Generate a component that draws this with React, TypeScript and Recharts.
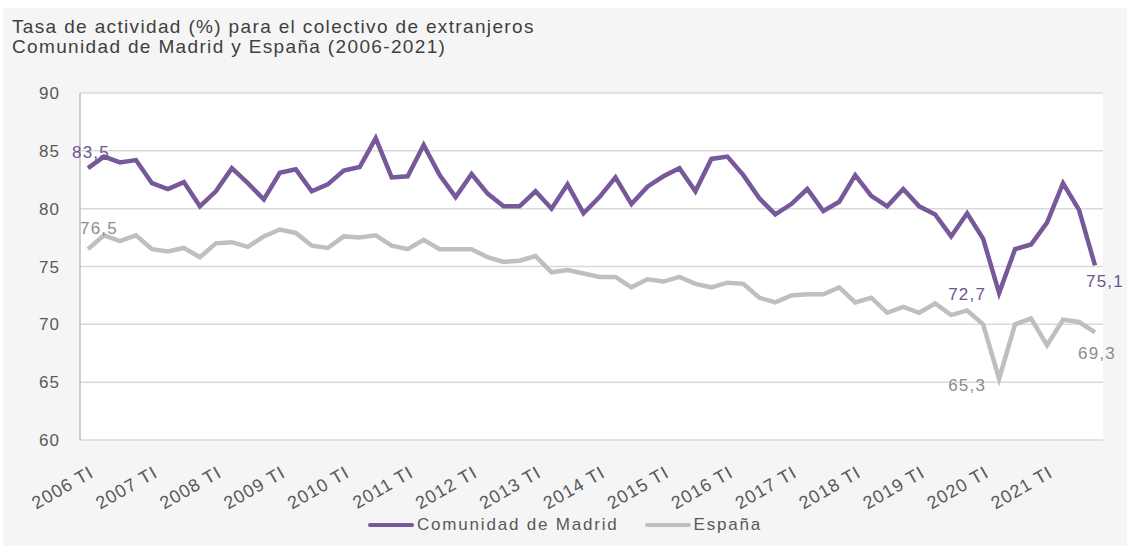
import { CartesianGrid, Legend, Line, LineChart, XAxis, YAxis } from "recharts";

// quarters 2006 TI .. 2021 TIV
const years = [2006, 2007, 2008, 2009, 2010, 2011, 2012, 2013, 2014, 2015, 2016, 2017, 2018, 2019, 2020, 2021];
const quarters = ["TI", "TII", "TIII", "TIV"];
const periods = years.flatMap((y) => quarters.map((q) => `${y} ${q}`));

const madrid = [
  83.5, 84.5, 84.0, 84.2, 82.2, 81.7, 82.3, 80.2,
  81.5, 83.5, 82.2, 80.8, 83.1, 83.4, 81.5, 82.1,
  83.3, 83.6, 86.1, 82.7, 82.8, 85.5, 82.9, 81.0,
  83.0, 81.3, 80.2, 80.2, 81.5, 80.0, 82.1, 79.6,
  81.0, 82.7, 80.4, 81.9, 82.8, 83.5, 81.5, 84.3,
  84.5, 82.9, 80.9, 79.5, 80.4, 81.7, 79.8, 80.6,
  82.9, 81.1, 80.2, 81.7, 80.2, 79.5, 77.6, 79.6,
  77.4, 72.7, 76.5, 76.9, 78.8, 82.2, 79.9, 75.1,
];

const espana = [
  76.5, 77.7, 77.2, 77.7, 76.5, 76.3, 76.6, 75.8,
  77.0, 77.1, 76.7, 77.6, 78.2, 77.9, 76.8, 76.6,
  77.6, 77.5, 77.7, 76.8, 76.5, 77.3, 76.5, 76.5,
  76.5, 75.8, 75.4, 75.5, 75.9, 74.5, 74.7, 74.4,
  74.1, 74.1, 73.2, 73.9, 73.7, 74.1, 73.5, 73.2,
  73.6, 73.5, 72.3, 71.9, 72.5, 72.6, 72.6, 73.2,
  71.9, 72.3, 71.0, 71.5, 71.0, 71.8, 70.8, 71.2,
  70.0, 65.3, 70.0, 70.5, 68.2, 70.4, 70.2, 69.3,
];

const yTicks = [60, 65, 70, 75, 80, 85, 90];

const data = periods.map((p, i) => ({ periodo: p, madrid: madrid[i], espana: espana[i] }));

const PURPLE = "#76589b";
const GREY = "#bfbfbf";
const TEXT = "#595959";
const FONT = "Liberation Sans, Arial, sans-serif";

const fmt = (v: number) => v.toFixed(1).replace(".", ",");

// which points get a value label, and where it sits relative to the point
const madridLabels: Record<number, { dx: number; dy: number; anchor: string }> = {
  0: { dx: 3, dy: -10, anchor: "middle" },
  57: { dx: -13, dy: 7, anchor: "end" },
  63: { dx: 10, dy: 22, anchor: "middle" },
};
const espanaLabels: Record<number, { dx: number; dy: number; anchor: string }> = {
  0: { dx: 11, dy: -15, anchor: "middle" },
  57: { dx: -13, dy: 12, anchor: "end" },
  63: { dx: 2, dy: 27, anchor: "middle" },
};

const makeLabel = (spots: Record<number, { dx: number; dy: number; anchor: string }>, color: string) =>
  (props: any) => {
    const { x, y, index, value } = props;
    const s = spots[index];
    if (!s) return null;
    return (
      <text
        key={`l-${index}`}
        x={x + s.dx}
        y={y + s.dy}
        textAnchor={s.anchor}
        fill={color}
        fontSize={17}
        letterSpacing={1.2}
        fontFamily={FONT}
      >
        {fmt(value)}
      </text>
    );
  };

const XTick = ({ x, y, payload }: any) => {
  const tx = x + 7;
  const ty = y + 28;
  return (
    <text
      x={tx}
      y={ty}
      transform={`rotate(-30, ${tx}, ${ty})`}
      textAnchor="end"
      fill={TEXT}
      fontSize={18}
      letterSpacing={1}
      fontFamily={FONT}
    >
      {payload.value}
    </text>
  );
};

const LegendContent = () => (
  <div style={{ display: "flex", justifyContent: "center", alignItems: "center", fontFamily: FONT, fontSize: 17, letterSpacing: 1.8, color: TEXT }}>
    <span style={{ display: "inline-block", width: 46, height: 4, borderRadius: 2, background: PURPLE }} />
    <span style={{ marginLeft: 3, marginRight: 26 }}>Comunidad de Madrid</span>
    <span style={{ display: "inline-block", width: 46, height: 4, borderRadius: 2, background: GREY }} />
    <span style={{ marginLeft: 3 }}>España</span>
  </div>
);

export default function App() {
  return (
    <div style={{ position: "absolute", left: 3, top: 8, width: 1124, height: 538, background: "#f5f5f5" }}>
      <div
        style={{
          position: "absolute",
          left: 9,
          top: 9,
          fontFamily: FONT,
          fontSize: 19,
          letterSpacing: 1.35,
          lineHeight: "20px",
          color: "#404040",
          zIndex: 2,
        }}
      >
        Tasa de actividad (%) para el colectivo de extranjeros
        <br />
        Comunidad de Madrid y España (2006-2021)
      </div>
      <LineChart width={1124} height={538} data={data} margin={{ top: 85, right: 24, left: 0, bottom: 0 }}>
        <CartesianGrid vertical={false} stroke="#d9d9d9" strokeWidth={1.5} fill="#ffffff" />
        <XAxis
          dataKey="periodo"
          interval={3}
          height={106}
          padding={{ left: 8, right: 8 }}
          axisLine={false}
          tickLine={false}
          tick={<XTick />}
        />
        <YAxis
          width={77}
          domain={[60, 90]}
          ticks={yTicks}
          axisLine={{ stroke: "#bfbfbf", strokeWidth: 1.5 }}
          tickLine={false}
          tickMargin={14}
          tick={{ fill: TEXT, fontSize: 17, fontFamily: FONT, letterSpacing: 1 }}
        />
        <Legend verticalAlign="middle" align="center" content={<LegendContent />} wrapperStyle={{ top: 507, left: 0, width: 1124 }} />
        <Line
          type="linear"
          dataKey="espana"
          name="España"
          stroke={GREY}
          strokeWidth={4.5}
          dot={false}
          isAnimationActive={false}
          label={makeLabel(espanaLabels, "#8c8c8c")}
        />
        <Line
          type="linear"
          dataKey="madrid"
          name="Comunidad de Madrid"
          stroke={PURPLE}
          strokeWidth={4.5}
          dot={false}
          isAnimationActive={false}
          label={makeLabel(madridLabels, "#6e5592")}
        />
      </LineChart>
    </div>
  );
}
